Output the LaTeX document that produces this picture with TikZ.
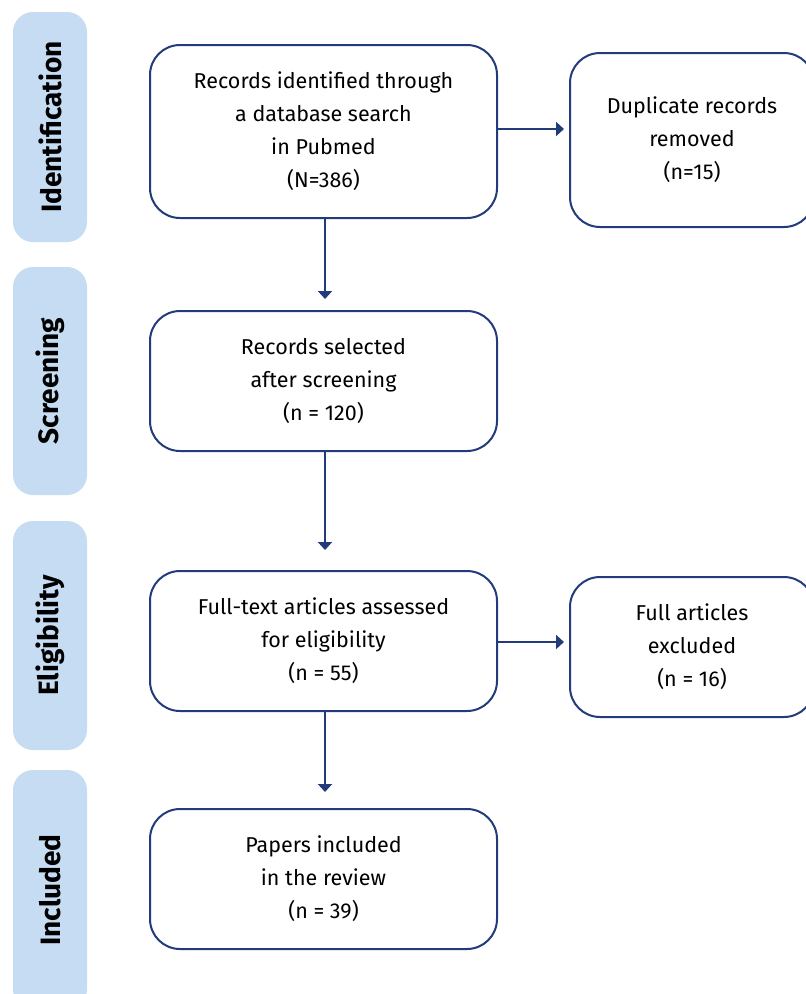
\documentclass[tikz,border=0pt]{standalone}
\usepackage{fontspec}
\setmainfont{Fira Sans}
\usepackage{tikz}
\usetikzlibrary{arrows.meta}
\usetikzlibrary{positioning}
\definecolor{navy}{HTML}{223B7A}
\definecolor{phaseblue}{HTML}{C6DCF2}
\tikzset{stage/.style={rectangle,rounded corners=30pt,draw=navy,line width=2pt,fill=white,align=center,font=\fontsize{21.5}{33}\selectfont,inner sep=0pt}}
\tikzset{phase/.style={rectangle,rounded corners=20pt,fill=phaseblue,minimum width=74pt,inner sep=0pt}}
\tikzset{link/.style={draw=navy,line width=2.2pt,-{Triangle[width=14pt,length=8pt]}}}

\begin{document}
\begin{tikzpicture}[x=1pt,y=-1pt]
\useasboundingbox (0,0) rectangle (806,994);
\clip (0,0) rectangle (806,994);

% phase bars down the left
\foreach \name/\y/\h/\txt in {PI/127/230/Identification, PS/381/228/Screening, PE/635.5/229/Eligibility, PN/890/240/Included}{
  \node[phase,minimum height=\h pt] (\name) at (50,\y) {};
  \node[rotate=90,font=\fontsize{28}{28}\selectfont\bfseries] at (\name) {\txt};
  }

% main column
\node[stage,minimum width=347pt,minimum height=173pt] (ident) at (323.5,131.5)
  {Records identified through\\a database search\\in Pubmed\\(N=386)};
\node[stage,minimum width=347pt,minimum height=140pt] (screen) at (323.5,381)
  {Records selected\\after screening\\(n = 120)};
\node[stage,minimum width=347pt,minimum height=140pt] (elig) at (323.5,641)
  {Full-text articles assessed\\for eligibility\\(n = 55)};
\node[stage,minimum width=347pt,minimum height=140pt] (incl) at (323.5,879)
  {Papers included\\in the review\\(n = 39)};

% side boxes
\node[stage,minimum width=244pt,minimum height=174pt] (dup) at (692,140)
  {Duplicate records\\removed\\(n=15)};
\node[stage,minimum width=244pt,minimum height=140pt] (excl) at (692,647)
  {Full articles\\excluded\\(n = 16)};

\draw[link,shorten >=11pt] ([xshift=1.5pt]ident.south) -- ([xshift=1.5pt]screen.north);
\draw[link,shorten >=20pt] ([xshift=1.5pt]screen.south) -- ([xshift=1.5pt]elig.north);
\draw[link,shorten >=16pt] ([xshift=1.5pt]elig.south) -- ([xshift=1.5pt]incl.north);
\draw[link,shorten >=5pt] ([yshift=2.5pt]ident.east) -- ([yshift=2.5pt]ident.east -| dup.west);
\draw[link,shorten >=5pt] ([yshift=-1pt]elig.east) -- ([yshift=-1pt]elig.east -| excl.west);

\end{tikzpicture}
\end{document}
